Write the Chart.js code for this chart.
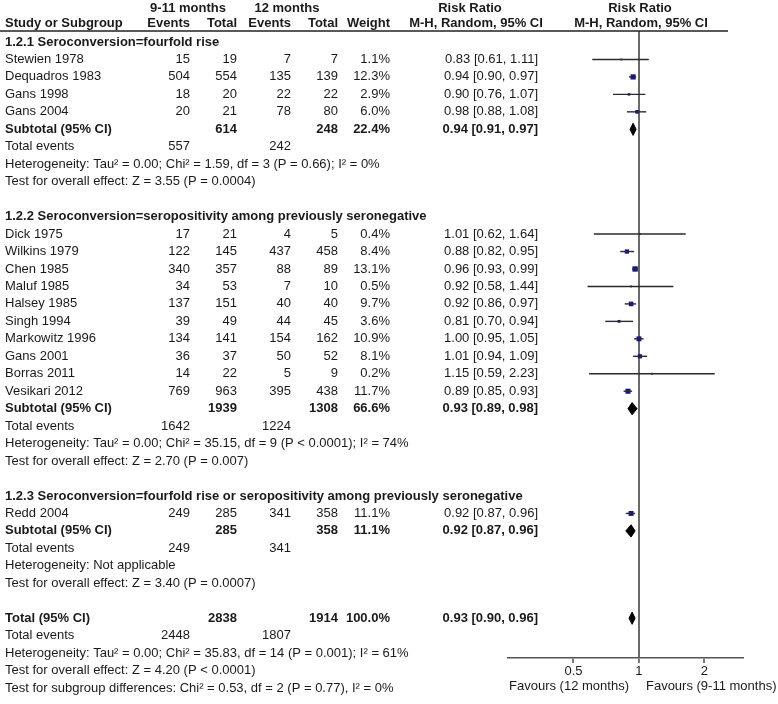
<!DOCTYPE html>
<html>
<head>
<meta charset="utf-8">
<title>Forest plot: 9-11 months vs 12 months</title>
<script src="https://cdn.jsdelivr.net/npm/chart.js@4.4.1/dist/chart.umd.min.js"></script>
<style>
  body { margin: 0; background: #fff; }
  #wrap { width: 778px; height: 704px; }
</style>
</head>
<body>
<div id="wrap"><canvas id="forest" width="778" height="704"></canvas></div>
<script>
// -------------------------
// Data
// -------------------------
const studies = ['Stewien 1978', 'Dequadros 1983', 'Gans 1998', 'Gans 2004',
  'Dick 1975', 'Wilkins 1979', 'Chen 1985', 'Maluf 1985', 'Halsey 1985', 'Singh 1994',
  'Markowitz 1996', 'Gans 2001', 'Borras 2011', 'Vesikari 2012', 'Redd 2004'];
const studyRows = [1, 2, 3, 4, 11, 12, 13, 14, 15, 16, 17, 18, 19, 20, 27];
const events1 = [15, 504, 18, 20, 17, 122, 340, 34, 137, 39, 134, 36, 14, 769, 249];
const total1 = [19, 554, 20, 21, 21, 145, 357, 53, 151, 49, 141, 37, 22, 963, 285];
const events2 = [7, 135, 22, 78, 4, 437, 88, 7, 40, 44, 154, 50, 5, 395, 341];
const total2 = [7, 139, 22, 80, 5, 458, 89, 10, 40, 45, 162, 52, 9, 438, 358];
const weights = [1.1, 12.3, 2.9, 6.0, 0.4, 8.4, 13.1, 0.5, 9.7, 3.6, 10.9, 8.1, 0.2, 11.7, 11.1];
const rr = [0.83, 0.94, 0.90, 0.98, 1.01, 0.88, 0.96, 0.92, 0.92, 0.81, 1.00, 1.01, 1.15, 0.89, 0.92];
const rrLow = [0.61, 0.90, 0.76, 0.88, 0.62, 0.82, 0.93, 0.58, 0.86, 0.70, 0.95, 0.94, 0.59, 0.85, 0.87];
const rrHigh = [1.11, 0.97, 1.07, 1.08, 1.64, 0.95, 0.99, 1.44, 0.97, 0.94, 1.05, 1.09, 2.23, 0.93, 0.96];

// subtotals and overall total
const pooledLabels = ['Subtotal (95% CI)', 'Subtotal (95% CI)', 'Subtotal (95% CI)', 'Total (95% CI)'];
const pooledRows = [5, 21, 28, 33];
const pooledTotal1 = [614, 1939, 285, 2838];
const pooledTotal2 = [248, 1308, 358, 1914];
const pooledWeight = [22.4, 66.6, 11.1, 100.0];
const pooledRR = [0.94, 0.93, 0.92, 0.93];
const pooledLow = [0.91, 0.89, 0.87, 0.90];
const pooledHigh = [0.97, 0.98, 0.96, 0.96];

const eventRows = [6, 22, 29, 34];
const pooledEvents1 = [557, 1642, 249, 2448];
const pooledEvents2 = [242, 1224, 341, 1807];

const groupTitles = ['1.2.1 Seroconversion=fourfold rise',
  '1.2.2 Seroconversion=seropositivity among previously seronegative',
  '1.2.3 Seroconversion=fourfold rise or seropositivity among previously seronegative'];
const groupRows = [0, 10, 26];

const notes = [
  'Heterogeneity: Tau\u00b2 = 0.00; Chi\u00b2 = 1.59, df = 3 (P = 0.66); I\u00b2 = 0%',
  'Test for overall effect: Z = 3.55 (P = 0.0004)',
  'Heterogeneity: Tau\u00b2 = 0.00; Chi\u00b2 = 35.15, df = 9 (P < 0.0001); I\u00b2 = 74%',
  'Test for overall effect: Z = 2.70 (P = 0.007)',
  'Heterogeneity: Not applicable',
  'Test for overall effect: Z = 3.40 (P = 0.0007)',
  'Heterogeneity: Tau\u00b2 = 0.00; Chi\u00b2 = 35.83, df = 14 (P = 0.001); I\u00b2 = 61%',
  'Test for overall effect: Z = 4.20 (P < 0.0001)',
  'Test for subgroup differences: Chi\u00b2 = 0.53, df = 2 (P = 0.77), I\u00b2 = 0%'
];
const noteRows = [7, 8, 23, 24, 30, 31, 35, 36, 37];

const xTicks = [0.5, 1, 2];

// -------------------------
// Layout helpers
// -------------------------
const FONT = '"Liberation Sans", Arial, Helvetica, sans-serif';
const TEXT = '#1a1a1a';
const COL = { name: 5, ev1: 190, tot1: 237, ev2: 291, tot2: 338, weight: 390, ci: 538 };
const DIAMOND_H = 0.35;

function fmtCI(v, lo, hi) {
  return `${v.toFixed(2)} [${lo.toFixed(2)}, ${hi.toFixed(2)}]`;
}

// whiskers, one small line dataset per study
const ciSets = studies.map((s, i) => ({
  label: s,
  showLine: true,
  data: [{ x: rrLow[i], y: studyRows[i] }, { x: rrHigh[i], y: studyRows[i] }],
  borderColor: '#2a2a2a',
  borderWidth: 1.4,
  pointRadius: 0
}));

// weighted squares
const squareSet = {
  label: 'Risk ratio',
  data: rr.map((v, i) => ({ x: v, y: studyRows[i] })),
  pointStyle: 'rect',
  pointRadius: weights.map(w => Math.max(1.3, 1.05 * Math.sqrt(w))),
  backgroundColor: '#15168c',
  borderColor: '#15168c',
  borderWidth: 0
};

// diamonds: upper half filled down to lower half
const diamondSets = [];
pooledRR.forEach((v, i) => {
  const r = pooledRows[i];
  diamondSets.push({
    label: pooledLabels[i] + ' upper',
    showLine: true,
    data: [{ x: pooledLow[i], y: r }, { x: v, y: r - DIAMOND_H }, { x: pooledHigh[i], y: r }],
    borderColor: '#000',
    backgroundColor: '#000',
    borderWidth: 1,
    pointRadius: 0,
    fill: '+1'
  });
  diamondSets.push({
    label: pooledLabels[i] + ' lower',
    showLine: true,
    data: [{ x: pooledLow[i], y: r }, { x: v, y: r + DIAMOND_H }, { x: pooledHigh[i], y: r }],
    borderColor: '#000',
    backgroundColor: '#000',
    borderWidth: 1,
    pointRadius: 0,
    fill: false
  });
});

// table text drawn next to the plot, rows taken from the y scale
const tablePlugin = {
  id: 'forestTable',
  afterDraw(chart) {
    const { ctx, chartArea, scales: { x, y } } = chart;
    const rowY = r => y.getPixelForValue(r);
    const put = (text, px, r, align, bold) => {
      ctx.font = (bold ? 'bold ' : '') + '13px ' + FONT;
      ctx.textAlign = align;
      ctx.fillText(String(text), px, rowY(r));
    };
    ctx.save();
    ctx.fillStyle = TEXT;
    ctx.textBaseline = 'middle';

    // column headers
    put('9-11 months', 188, -1.95, 'center', true);
    put('12 months', 287, -1.95, 'center', true);
    put('Risk Ratio', 470, -1.95, 'center', true);
    put('Risk Ratio', 640, -1.95, 'center', true);
    put('Study or Subgroup', COL.name, -1.09, 'left', true);
    put('Events', COL.ev1, -1.09, 'right', true);
    put('Total', COL.tot1, -1.09, 'right', true);
    put('Events', COL.ev2, -1.09, 'right', true);
    put('Total', COL.tot2, -1.09, 'right', true);
    put('Weight', COL.weight, -1.09, 'right', true);
    put('M-H, Random, 95% CI', 476, -1.09, 'center', true);
    put('M-H, Random, 95% CI', 641, -1.09, 'center', true);

    ctx.strokeStyle = '#222';
    ctx.lineWidth = 1.5;
    ctx.beginPath();
    ctx.moveTo(0, chartArea.top);
    ctx.lineTo(728, chartArea.top);
    ctx.stroke();

    groupTitles.forEach((t, i) => put(t, COL.name, groupRows[i], 'left', true));

    studies.forEach((s, i) => {
      const r = studyRows[i];
      put(s, COL.name, r, 'left');
      put(events1[i], COL.ev1, r, 'right');
      put(total1[i], COL.tot1, r, 'right');
      put(events2[i], COL.ev2, r, 'right');
      put(total2[i], COL.tot2, r, 'right');
      put(weights[i].toFixed(1) + '%', COL.weight, r, 'right');
      put(fmtCI(rr[i], rrLow[i], rrHigh[i]), COL.ci, r, 'right');
    });

    pooledLabels.forEach((lab, i) => {
      const r = pooledRows[i];
      put(lab, COL.name, r, 'left', true);
      put(pooledTotal1[i], COL.tot1, r, 'right', true);
      put(pooledTotal2[i], COL.tot2, r, 'right', true);
      put(pooledWeight[i].toFixed(1) + '%', COL.weight, r, 'right', true);
      put(fmtCI(pooledRR[i], pooledLow[i], pooledHigh[i]), COL.ci, r, 'right', true);
    });

    eventRows.forEach((r, i) => {
      put('Total events', COL.name, r, 'left');
      put(pooledEvents1[i], COL.ev1, r, 'right');
      put(pooledEvents2[i], COL.ev2, r, 'right');
    });

    notes.forEach((t, i) => put(t, COL.name, noteRows[i], 'left'));

    // favours labels under the axis
    ctx.font = '13px ' + FONT;
    const one = x.getPixelForValue(1);
    const fy = chartArea.bottom + 28;
    ctx.textAlign = 'right';
    ctx.fillText('Favours (12 months)', one - 10, fy);
    ctx.textAlign = 'left';
    ctx.fillText('Favours (9-11 months)', one + 7, fy);
    ctx.restore();
  }
};

Chart.defaults.font.family = FONT;
Chart.defaults.font.size = 13;
Chart.defaults.color = TEXT;

new Chart(document.getElementById('forest'), {
  type: 'scatter',
  data: { datasets: [...ciSets, squareSet, ...diamondSets] },
  options: {
    responsive: false,
    animation: false,
    events: [],
    layout: { padding: { left: 508, right: 34, top: 31, bottom: 20 } },
    plugins: { legend: { display: false }, tooltip: { enabled: false } },
    scales: {
      x: {
        type: 'logarithmic',
        min: 0.25,
        max: 3.04,
        afterBuildTicks: axis => { axis.ticks = xTicks.map(v => ({ value: v })); },
        afterFit: axis => { axis.height = 26; },
        ticks: { callback: v => String(v), padding: 1, color: TEXT, maxRotation: 0 },
        grid: {
          drawOnChartArea: true,
          color: c => (c.tick && c.tick.value === 1 ? '#6a6a6a' : 'rgba(0,0,0,0)'),
          lineWidth: c => (c.tick && c.tick.value === 1 ? 2 : 0),
          tickColor: '#333',
          tickWidth: 1.3,
          tickLength: 5
        },
        border: { color: '#555', width: 1.5 }
      },
      y: {
        type: 'linear',
        display: false,
        reverse: true,
        min: -0.63,
        max: 35.28
      }
    }
  },
  plugins: [tablePlugin]
});
</script>
</body>
</html>
